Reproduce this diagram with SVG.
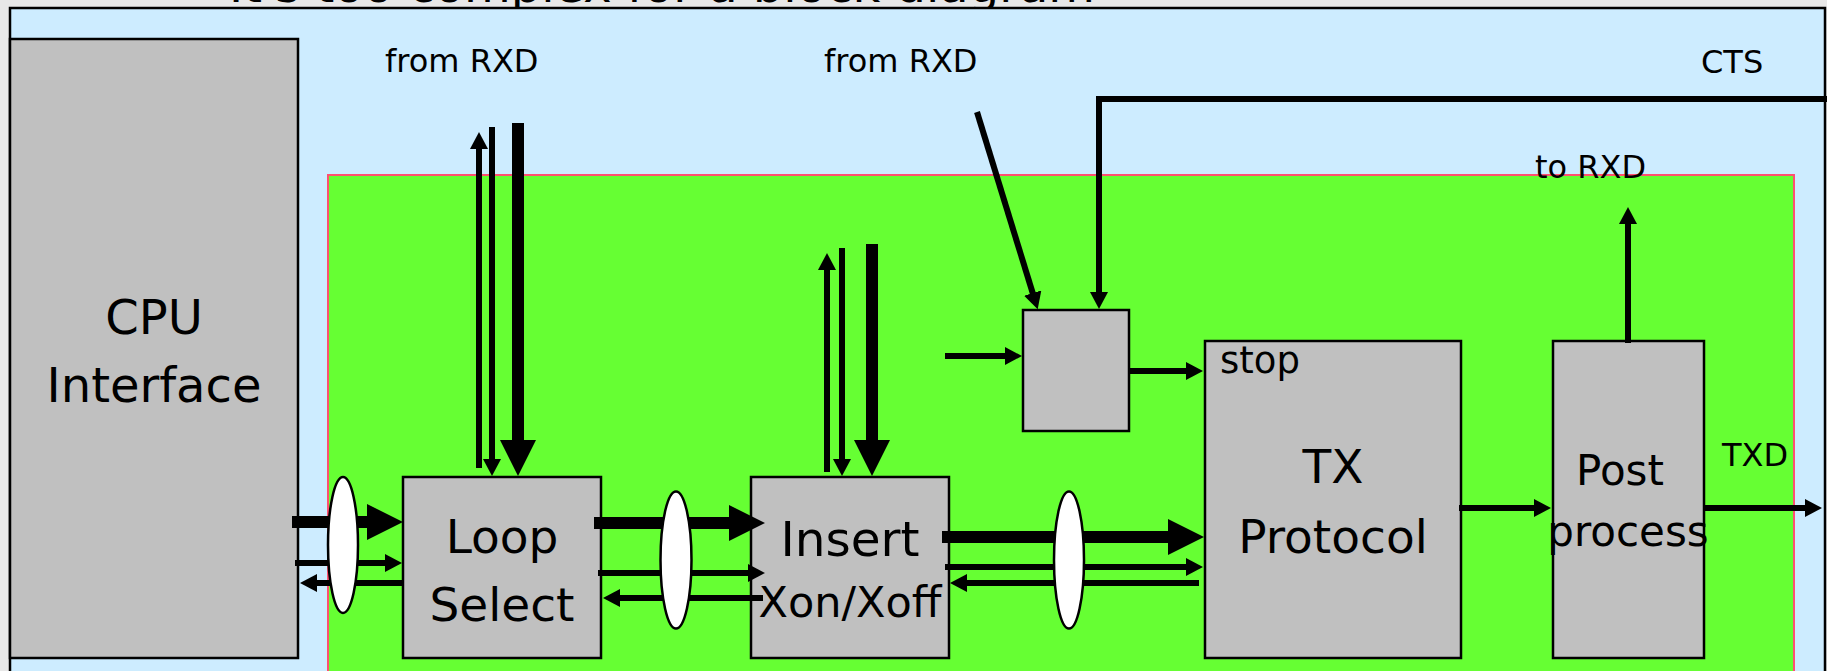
<svg xmlns="http://www.w3.org/2000/svg" width="1827" height="671" viewBox="0 0 1827 671">
<defs>
<style>
.box{fill:#c0c0c0;stroke:#000;stroke-width:2.5}
.lbl{font-family:"DejaVu Sans","Liberation Sans",sans-serif;fill:#000}
.big{font-size:47px;text-anchor:middle}
.sm{font-size:32px}
.w{stroke:#000;stroke-width:6;fill:none}
.wb{stroke:#000;stroke-width:12;fill:none}
.a{marker-end:url(#ah)}
.ab{marker-end:url(#ahb)}
.ell{fill:#fff;stroke:#000;stroke-width:2.5}
</style>
<marker id="ah" markerUnits="userSpaceOnUse" viewBox="0 0 17 18" markerWidth="17" markerHeight="18" refX="1" refY="9" orient="auto"><path d="M0,0 L17,9 L0,18 z" fill="#000"/></marker>
<marker id="ahb" markerUnits="userSpaceOnUse" viewBox="0 0 36 36" markerWidth="36" markerHeight="36" refX="1" refY="18" orient="auto"><path d="M0,0 L36,18 L0,36 z" fill="#000"/></marker>
</defs>
<rect x="0" y="0" width="1827" height="671" fill="#e8e8e8"/>
<text class="lbl" x="229" y="2" font-size="48" fill="#111">It's too complex for a block diagram</text>
<rect x="10" y="8" width="1815" height="700" fill="#cdecff" stroke="#000" stroke-width="2.5"/>
<rect x="328" y="175" width="1466" height="520" fill="#66ff33" stroke="#ff5070" stroke-width="2"/>

<text class="lbl sm" x="385" y="72">from RXD</text>
<text class="lbl sm" x="824" y="72">from RXD</text>
<text class="lbl sm" x="1701" y="73">CTS</text>
<text class="lbl sm" x="1535" y="178">to RXD</text>
<text class="lbl sm" x="1722" y="466">TXD</text>

<g id="cpu"><rect class="box" x="10" y="39" width="288" height="619"/><text class="lbl big" x="154" y="334" style="font-size:48px">CPU</text><text class="lbl big" x="154" y="402" style="font-size:48px">Interface</text></g>
<g id="loop"><rect class="box" x="403" y="477" width="198" height="181"/><text class="lbl big" x="502" y="553">Loop</text><text class="lbl big" x="502" y="621">Select</text></g>
<g id="insert"><rect class="box" x="751" y="477" width="198" height="181"/><text class="lbl big" x="850" y="556" style="font-size:48.5px">Insert</text><text class="lbl big" x="850" y="617" style="font-size:43px">Xon/Xoff</text></g>
<g id="stopgen"><rect class="box" x="1023" y="310" width="106" height="121"/></g>
<g id="tx"><rect class="box" x="1205" y="341" width="256" height="317"/><text class="lbl" x="1220" y="373" font-size="37">stop</text><text class="lbl big" x="1333" y="483">TX</text><text class="lbl big" x="1333" y="553">Protocol</text></g>
<g id="post"><rect class="box" x="1553" y="341" width="151" height="317"/><text class="lbl big" x="1620" y="485" style="font-size:42px">Post</text><text class="lbl big" x="1628" y="546" style="font-size:42px">process</text></g>

<g id="connectors">
<path class="wb ab" d="M292,522 H368"/>
<path class="w a" d="M295,563 H386"/>
<path class="w a" d="M403,583 H316"/>
<path class="wb ab" d="M594,523 H730"/>
<path class="w a" d="M598,573 H749"/>
<path class="w a" d="M763,598 H619"/>
<path class="wb ab" d="M942,537 H1169"/>
<path class="w a" d="M945,567 H1187"/>
<path class="w a" d="M1199,583 H966"/>
<path class="w a" d="M479,468 V148"/>
<path class="w a" d="M492,127 V460"/>
<path class="wb ab" d="M518,123 V441"/>
<path class="w a" d="M827,472 V269"/>
<path class="w a" d="M842,248 V460"/>
<path class="wb ab" d="M872,244 V441"/>
<path class="w a" d="M977,112 L1033,294"/>
<path class="w a" d="M1830,99 H1099 V293"/>
<path class="w a" d="M945,356 H1006"/>
<path class="w a" d="M1129,371 H1187"/>
<path class="w a" d="M1459,508 H1535"/>
<path class="w a" d="M1703,508 H1806"/>
<path class="w a" d="M1628,343 V223"/>
<ellipse class="ell" cx="343" cy="545" rx="15" ry="68"/>
<ellipse class="ell" cx="676" cy="560" rx="15.5" ry="68.5"/>
<ellipse class="ell" cx="1069" cy="560" rx="15" ry="68.5"/>
</g>
</svg>
